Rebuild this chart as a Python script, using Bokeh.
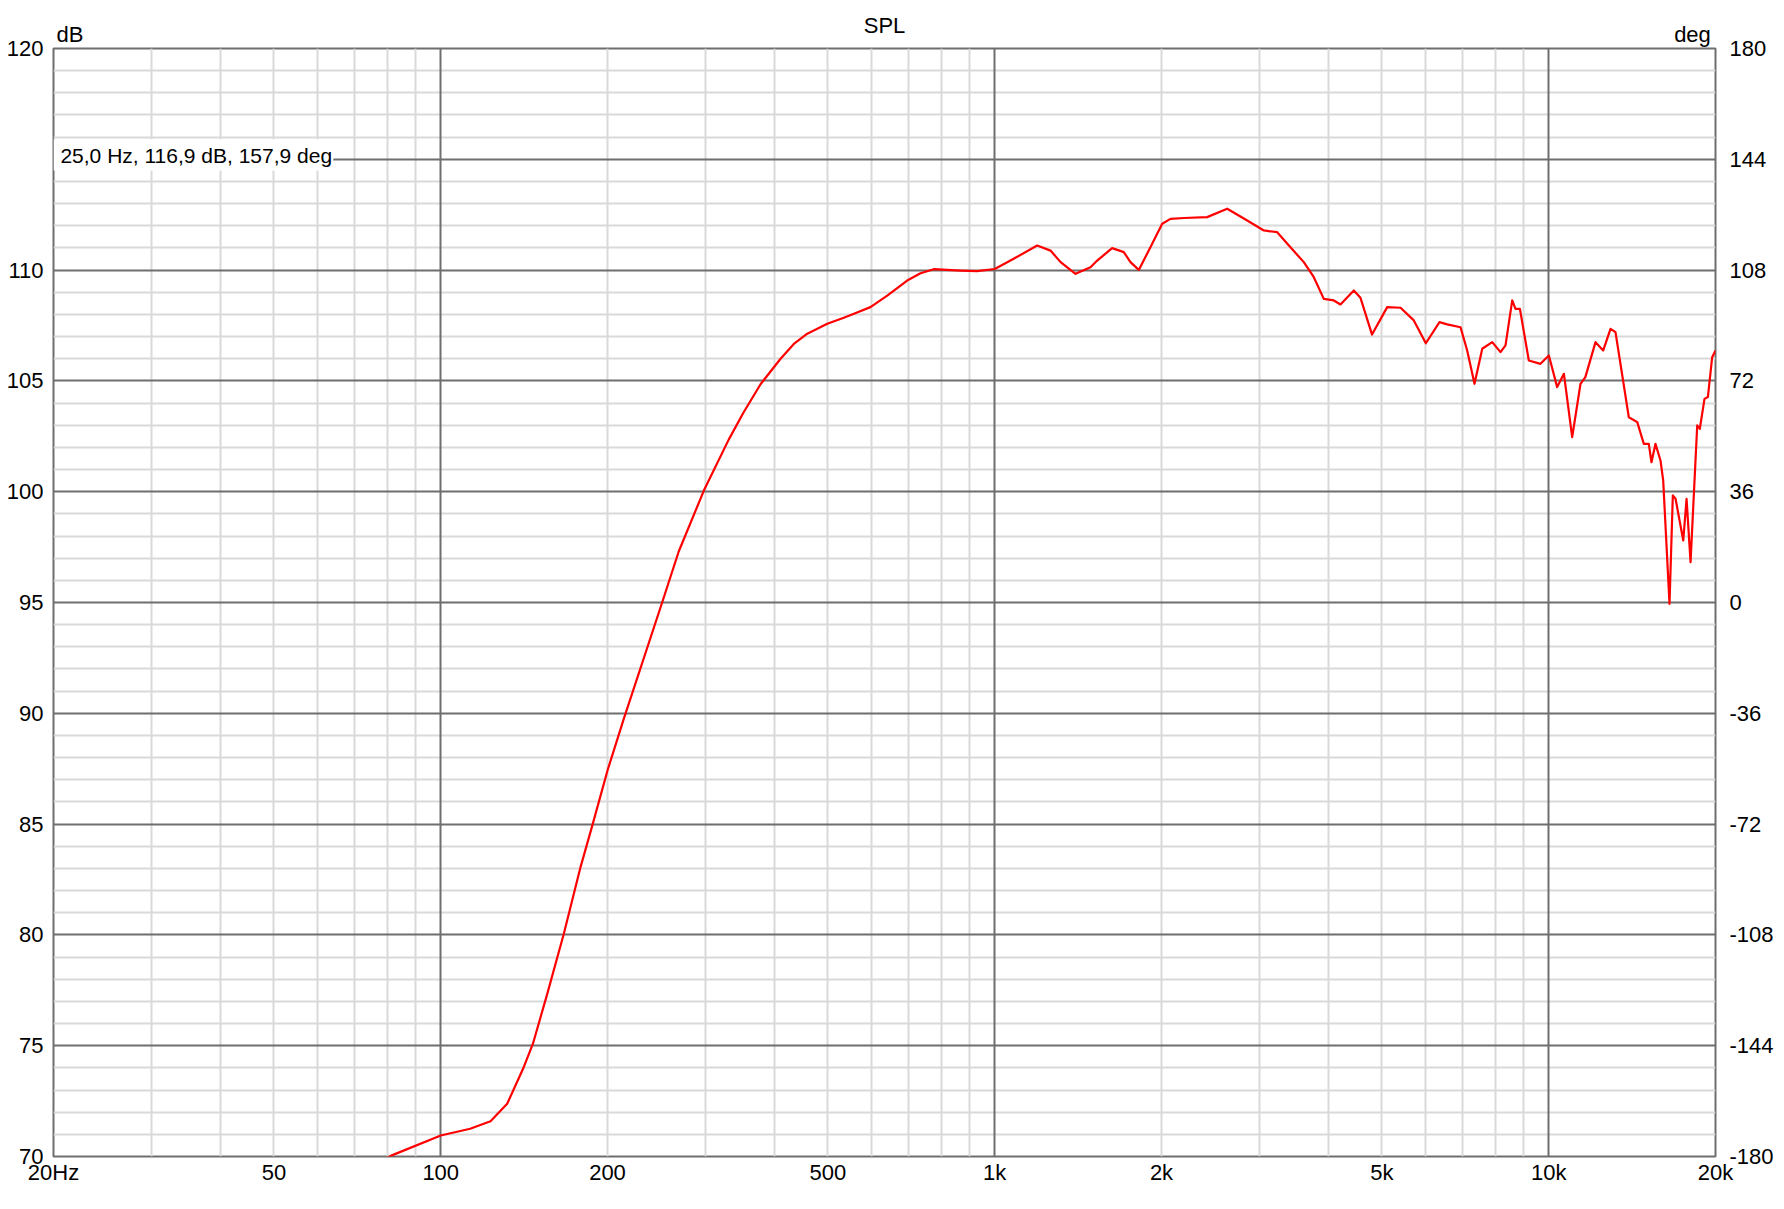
from bokeh.plotting import figure
from bokeh.models import (Range1d, LinearAxis, LogAxis, FixedTicker, Grid,
                          CustomJSTickFormatter, ColumnDataSource)
from bokeh.embed import file_html
from bokeh.resources import INLINE

# ---------------- data ----------------
freq_hz = [75, 81.4, 100, 113, 123, 131.8, 141.2, 146.7, 155.7, 166.8, 178.8,
           188.5, 200, 214, 251, 268.9, 298.5, 331, 351.6, 377.8, 410.6, 433.9,
           458.8, 498.6, 534, 557, 596.6, 639.7, 695, 734.6, 776, 867, 929.6,
           1000, 1082, 1193, 1261, 1315, 1399, 1489, 1531, 1629, 1710, 1758,
           1820, 1910, 2006, 2076, 2194, 2418, 2628, 2856, 3060,
           3235, 3418, 3613, 3767, 3926, 4094, 4208, 4448, 4573, 4798, 5110,
           5402, 5708, 6000, 6350, 6558, 6931, 7125, 7345, 7586, 7907, 8184,
           8356, 8592, 8710, 8871, 9206, 9662, 10006, 10356, 10652, 11024,
           11412, 11645, 12146, 12537, 12928, 13198, 13950, 14447, 14848,
           15157, 15328, 15586, 15912, 16092, 16520, 16750, 16940, 17492,
           17734, 18030, 18536, 18738, 19106, 19376, 19726, 20000]
spl_db = [69.6, 70.04, 70.95, 71.25, 71.59, 72.38, 74.03, 75.09, 77.34, 80.05,
          83.06, 85.09, 87.42, 89.75, 95.0, 97.3, 100.05, 102.35, 103.55, 104.85,
          106.0, 106.67, 107.13, 107.58, 107.85, 108.03, 108.33, 108.85,
          109.53, 109.86, 110.04, 109.98, 109.95,
          110.05, 110.51, 111.11, 110.88, 110.36, 109.83, 110.13, 110.43,
          110.99, 110.81, 110.36,
          110.01, 111.03, 112.09, 112.31, 112.35, 112.39, 112.77, 112.24,
          111.79, 111.71, 111.03, 110.36, 109.68, 108.70, 108.63, 108.45,
          109.08, 108.75, 107.09, 108.33, 108.30, 107.73, 106.70, 107.65,
          107.55, 107.42, 106.37, 104.87, 106.45, 106.75, 106.30, 106.60,
          108.63, 108.25, 108.25, 105.92, 105.77, 106.15, 104.72, 105.32,
          102.46, 104.87, 105.17, 106.75, 106.37, 107.35, 107.20, 103.36,
          103.14, 102.16, 102.16, 101.33, 102.16, 101.41, 100.51, 94.94,
          99.83, 99.68, 97.80, 99.68, 96.82, 102.99, 102.84, 104.19, 104.27,
          106.07, 106.37]

x_tick_vals = [20, 50, 100, 200, 500, 1000, 2000, 5000, 10000, 20000]
x_tick_labels = ["20Hz", "50", "100", "200", "500", "1k", "2k", "5k", "10k", "20k"]
x_major_grid = [100, 1000, 10000]
x_minor_grid = [30, 40, 50, 60, 70, 80, 90,
                200, 300, 400, 500, 600, 700, 800, 900,
                2000, 3000, 4000, 5000, 6000, 7000, 8000, 9000]
y_left_ticks = [70, 75, 80, 85, 90, 95, 100, 105, 110, 120]
y_major_grid = [75, 80, 85, 90, 95, 100, 105, 110, 115]
y_minor_grid = [v for v in range(71, 120) if v % 5 != 0]
y_right_ticks = [-180, -144, -108, -72, -36, 0, 36, 72, 108, 144, 180]

title_text = "SPL"
unit_label_pos = [21.42, 18176]          # Hz, centres of the unit captions
unit_labels = ["dB", "deg"]
cursor_pos = [36.2]                      # Hz, centre of the cursor read-out
cursor_text = ["25,0 Hz, 116,9 dB, 157,9 deg"]
cursor_level = 115.67                    # dB
cursor_box_f = (20, 64.0)                # Hz, read-out background box
cursor_box_db = (114.5, 115.9)           # dB

# ---------------- styling ----------------
FONT = "Liberation Sans"
FS = "22px"
DARK = "#6e6e6e"
LIGHT = "#d9d9d9"

p = figure(width=1778, height=1205, x_axis_type="log",
           x_range=Range1d(20, 20000), y_range=Range1d(70, 120),
           output_backend="svg", toolbar_location=None,
           min_border_left=53, min_border_right=63,
           min_border_top=48, min_border_bottom=49)
p.extra_y_ranges = {"deg": Range1d(-180, 180)}
p.background_fill_color = "white"
p.border_fill_color = "white"
p.outline_line_color = DARK
p.outline_line_width = 2
p.title.visible = False

p.xgrid.visible = False
p.ygrid.visible = False

p.add_layout(Grid(dimension=0, ticker=FixedTicker(ticks=x_minor_grid),
                  grid_line_color=LIGHT, grid_line_width=2))
p.add_layout(Grid(dimension=1, ticker=FixedTicker(ticks=y_minor_grid),
                  grid_line_color=LIGHT, grid_line_width=2))
p.add_layout(Grid(dimension=0, ticker=FixedTicker(ticks=x_major_grid),
                  grid_line_color=DARK, grid_line_width=2))
p.add_layout(Grid(dimension=1, ticker=FixedTicker(ticks=y_major_grid),
                  grid_line_color=DARK, grid_line_width=2))


def label_fmt(vals, labs):
    return CustomJSTickFormatter(args=dict(vals=vals, labs=labs), code="""
const i = vals.findIndex(v => Math.abs(v - tick) < 1e-6 * Math.abs(v) + 1e-9);
return i >= 0 ? labs[i] : '';
""")


int_fmt = CustomJSTickFormatter(code="return String(Math.round(tick));")


def style_axis(ax, standoff, size=FS):
    ax.axis_line_color = None
    ax.major_tick_line_color = None
    ax.minor_tick_line_color = None
    ax.major_tick_out = 0
    ax.major_tick_in = 0
    ax.minor_tick_out = 0
    ax.minor_tick_in = 0
    ax.major_label_standoff = standoff
    ax.major_label_text_font = FONT
    ax.major_label_text_font_size = size
    ax.major_label_text_color = "black"


xa = p.xaxis[0]
xa.ticker = FixedTicker(ticks=x_tick_vals)
xa.formatter = label_fmt(x_tick_vals, x_tick_labels)
style_axis(xa, 3)

ya = p.yaxis[0]
ya.ticker = FixedTicker(ticks=y_left_ticks)
ya.formatter = int_fmt
style_axis(ya, 10)

ra = LinearAxis(y_range_name="deg", ticker=FixedTicker(ticks=y_right_ticks),
                formatter=int_fmt)
style_axis(ra, 14)
p.add_layout(ra, "right")

# top: unit captions as tick labels, chart title as the axis label
ua = LogAxis(ticker=FixedTicker(ticks=unit_label_pos),
             formatter=label_fmt(unit_label_pos, unit_labels),
             axis_label=title_text)
style_axis(ua, 2)
ua.axis_label_text_font = FONT
ua.axis_label_text_font_size = FS
ua.axis_label_text_font_style = "normal"
ua.axis_label_text_color = "black"
ua.axis_label_standoff = -19
p.add_layout(ua, "above")

# cursor read-out: white box + text
p.quad(left=[cursor_box_f[0]], right=[cursor_box_f[1]],
       bottom=[cursor_box_db[0]], top=[cursor_box_db[1]],
       fill_color="white", line_color=None)
ca = LogAxis(fixed_location=cursor_level, ticker=FixedTicker(ticks=cursor_pos),
             formatter=label_fmt(cursor_pos, cursor_text))
style_axis(ca, 0, "21px")
p.add_layout(ca, "below")

src = ColumnDataSource(dict(f=freq_hz, db=spl_db))
p.line("f", "db", source=src, line_color="#ff0000", line_width=2.2,
       line_join="round")

open("out.html", "w").write(file_html(p, INLINE))
